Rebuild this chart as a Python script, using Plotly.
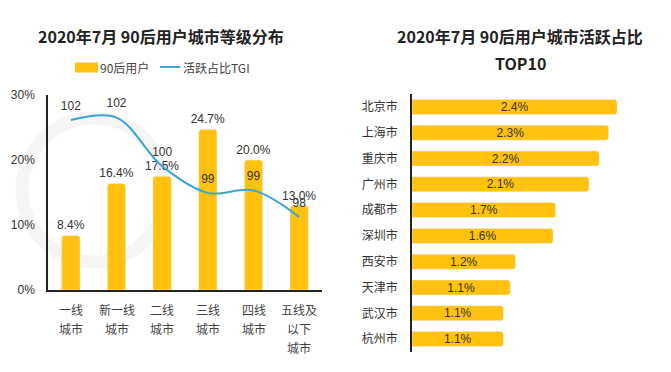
import plotly.graph_objects as go

# ---- Data ----
tier_labels = ["一线<br>城市", "新一线<br>城市", "二线<br>城市", "三线<br>城市", "四线<br>城市", "五线及<br>以下<br>城市"]
user_share = [8.4, 16.4, 17.5, 24.7, 20.0, 13.0]
tgi_values = [102.0, 102.1, 100.1, 99.0, 99.1, 98.0]
tgi_labels = ["102", "102", "100", "99", "99", "98"]

cities = ["北京市", "上海市", "重庆市", "广州市", "成都市", "深圳市", "西安市", "天津市", "武汉市", "杭州市"]
active_share = [2.40, 2.30, 2.19, 2.07, 1.68, 1.65, 1.21, 1.15, 1.07, 1.07]
active_labels = ["2.4%", "2.3%", "2.2%", "2.1%", "1.7%", "1.6%", "1.2%", "1.1%", "1.1%", "1.1%"]

# The page body has an 8px margin, so the figure is drawn 8px in from the window edges.
OFF = 8
W, H = 671 - 2 * OFF, 372 - 2 * OFF
YELLOW = "#FFC20E"
BLUE = "#3AA6D6"
TXT = "#333333"
NUM_FONT = "Liberation Sans, Arial, Noto Sans CJK SC"
CJK_FONT = "Noto Sans CJK SC, Liberation Sans"

def px_x(x):
    return min(max((x - OFF) / W, 0.0), 1.0)

def px_y(y):
    return min(max(1 - (y - OFF) / H, 0.0), 1.0)

fig = go.Figure()

# Left: bars
fig.add_trace(go.Bar(
    x=tier_labels, y=user_share, xaxis="x", yaxis="y",
    marker=dict(color=YELLOW, cornerradius=3),
    texttemplate="%{y:.1f}%", textposition="outside", cliponaxis=False,
    constraintext="none",
    textfont=dict(family=NUM_FONT, size=12, color=TXT),
    showlegend=False,
))
# Left: TGI line
fig.add_trace(go.Scatter(
    x=tier_labels, y=tgi_values, xaxis="x", yaxis="y2",
    mode="lines+markers+text", text=tgi_labels, textposition="top center",
    marker=dict(size=10, color="rgba(0,0,0,0)"),
    line=dict(color=BLUE, width=2, shape="spline", smoothing=1.0),
    textfont=dict(family=NUM_FONT, size=12, color=TXT),
    cliponaxis=False, showlegend=False,
))
# Right: horizontal bars
fig.add_trace(go.Bar(
    x=active_share, y=cities, orientation="h", xaxis="x3", yaxis="y3",
    marker=dict(color=YELLOW, cornerradius=3), width=0.58,
    text=active_labels, textposition="inside", insidetextanchor="middle",
    constraintext="none",
    textfont=dict(family=NUM_FONT, size=12, color=TXT),
    showlegend=False,
))

X3_LEFT, X3_RIGHT, X3_PX_PER_UNIT = 412, 663, 85.5

fig.update_layout(
    width=W, height=H,
    margin=dict(l=0, r=0, t=0, b=0, autoexpand=False),
    paper_bgcolor="white", plot_bgcolor="rgba(0,0,0,0)",
    bargap=0.6,
    font=dict(family=CJK_FONT, color=TXT, size=12),
    xaxis=dict(domain=[px_x(48), px_x(322)], showgrid=False, zeroline=False, automargin=False,
               showline=True, linecolor="#222", linewidth=1.5, ticks="", showticklabels=False),
    yaxis=dict(domain=[px_y(290), px_y(95)], range=[0, 30], showgrid=False, zeroline=False,
               automargin=False,
               showline=True, linecolor="#222", linewidth=1.5,
               tickvals=[0, 10, 20, 30], ticktext=["0%", "10%", "20%", "30%"],
               ticks="outside", ticklen=9, tickcolor="rgba(0,0,0,0)",
               tickfont=dict(family=NUM_FONT, size=12, color=TXT)),
    yaxis2=dict(overlaying="y", range=[95.0, 103.03], visible=False, automargin=False),
    xaxis3=dict(domain=[px_x(X3_LEFT), px_x(X3_RIGHT)],
                range=[0, (X3_RIGHT - X3_LEFT) / X3_PX_PER_UNIT], visible=False, anchor="y3",
                automargin=False),
    yaxis3=dict(domain=[px_y(352), px_y(94)], autorange="reversed", anchor="x3", automargin=False,
                showline=True, linecolor="#222", linewidth=1.5, showgrid=False, zeroline=False,
                ticks="outside", ticklen=10, tickcolor="rgba(0,0,0,0)",
                tickfont=dict(family=CJK_FONT, size=12, color=TXT)),
)

# Faint watermark logo ring
fig.add_shape(type="circle", xref="paper", yref="paper", layer="below",
              x0=px_x(22), x1=px_x(166), y0=px_y(262), y1=px_y(118),
              line=dict(color="#f5f5f5", width=13))

# Category labels under left chart (multi-line with wider line spacing)
for cat in tier_labels:
    for i, part in enumerate(cat.split("<br>")):
        fig.add_annotation(text=part, x=cat, xref="x", y=px_y(309 + 19 * i), yref="paper",
                           xanchor="center", yanchor="middle", showarrow=False,
                           font=dict(family=CJK_FONT, size=12, color="#444"))

# Titles
fig.add_annotation(text="<b>2020年7月 90后用户城市等级分布</b>", x=px_x(161), y=px_y(36),
                   xref="paper", yref="paper", showarrow=False, xanchor="center", yanchor="middle",
                   font=dict(family=CJK_FONT, size=16, color="#222"))
fig.add_annotation(text="<b>2020年7月 90后用户城市活跃占比</b>", x=px_x(520), y=px_y(36),
                   xref="paper", yref="paper", showarrow=False, xanchor="center", yanchor="middle",
                   font=dict(family=CJK_FONT, size=16, color="#222"))
fig.add_annotation(text="<b>TOP10</b>", x=px_x(520), y=px_y(63),
                   xref="paper", yref="paper", showarrow=False, xanchor="center", yanchor="middle",
                   font=dict(family=CJK_FONT, size=16, color="#222"))

# Manual legend
fig.add_shape(type="rect", xref="paper", yref="paper",
              x0=px_x(75), x1=px_x(98), y0=px_y(72.5), y1=px_y(62.5),
              fillcolor=YELLOW, line=dict(width=0))
fig.add_annotation(text="90后用户", x=px_x(98), y=px_y(67), xref="paper", yref="paper",
                   xanchor="left", yanchor="middle", showarrow=False,
                   font=dict(family=CJK_FONT, size=12, color="#444"))
fig.add_shape(type="line", xref="paper", yref="paper",
              x0=px_x(160), x1=px_x(180), y0=px_y(67), y1=px_y(67),
              line=dict(color=BLUE, width=2))
fig.add_annotation(text="活跃占比TGI", x=px_x(181), y=px_y(67), xref="paper", yref="paper",
                   xanchor="left", yanchor="middle", showarrow=False,
                   font=dict(family=CJK_FONT, size=12, color="#444"))

fig.write_html("out.html")
